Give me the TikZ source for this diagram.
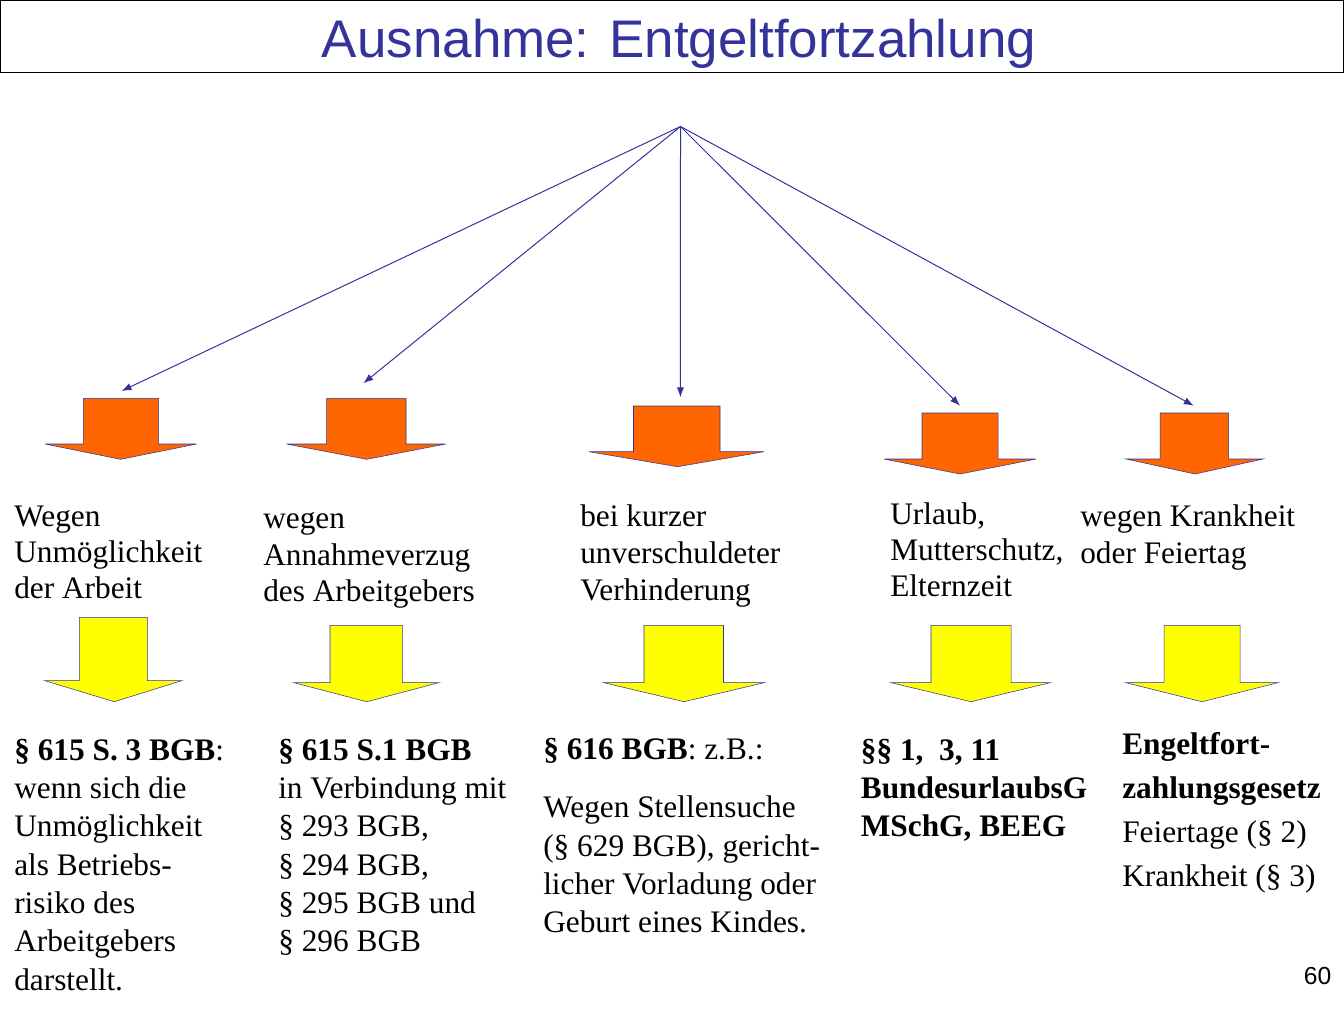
\documentclass[tikz,border=0pt]{standalone}
\usepackage{fontspec}
\setmainfont{Liberation Serif}
\newfontfamily\titlefont{Liberation Sans}
\usetikzlibrary{arrows.meta}
\definecolor{titleblue}{HTML}{333399}
\definecolor{orangefill}{HTML}{FF6600}
\definecolor{yellowfill}{HTML}{FFFF00}
\begin{document}
\begin{tikzpicture}[x=0.75pt,y=-0.75pt,
  fan/.style={draw=titleblue, line width=0.75pt, -{Latex[length=7.5pt,width=5.5pt]}},
  blockarrow/.style={draw=titleblue, line width=0.4pt},
  midtext/.style={anchor=base west, align=left, inner sep=0pt, font=\fontsize{23.5}{27.5}\selectfont},
  lawtext/.style={anchor=base west, align=left, inner sep=0pt, font=\fontsize{23.5}{28.7}\selectfont}]
\useasboundingbox (0,0) rectangle (1344,1008);
% title
\draw[line width=1pt] (0.7,0.7) rectangle (1343.3,72.7);
\node[anchor=base, inner sep=0pt, text=titleblue, font=\titlefont\fontsize{39.7}{44}\selectfont] (title) at (679,57) {Ausnahme: Entgeltfortzahlung};
% fan of connectors
\coordinate (apex) at (680.5,126.5);
\coordinate (end1) at (121.5,391);
\coordinate (end2) at (363.3,383.3);
\coordinate (end3) at (680.4,397.3);
\coordinate (end4) at (960,405.7);
\coordinate (end5) at (1193.8,405.7);
\foreach \e in {1,...,5}
  \draw[fan] (apex) -- (end\e);
% orange block arrows
\filldraw[blockarrow, fill=orangefill] (83.3,398.3) -- (158.7,398.3) -- (158.7,444) -- (196.7,444) -- (120.7,459.3) -- (45,444) -- (83.3,444) -- cycle;
\filldraw[blockarrow, fill=orangefill] (326.7,398.3) -- (406,398.3) -- (406,444) -- (445.7,444) -- (366.7,459.3) -- (286.7,444) -- (326.7,444) -- cycle;
\filldraw[blockarrow, fill=orangefill] (633.5,406) -- (720,406) -- (720,451.7) -- (764,451.7) -- (677.5,466.7) -- (589,451.7) -- (633.5,451.7) -- cycle;
\filldraw[blockarrow, fill=orangefill] (922,413) -- (998,413) -- (998,459) -- (1036,459) -- (960,474) -- (884,459) -- (922,459) -- cycle;
\filldraw[blockarrow, fill=orangefill] (1160,413) -- (1228.5,413) -- (1228.5,459) -- (1263,459) -- (1195,474) -- (1126,459) -- (1160,459) -- cycle;
% causes (anchored at the baseline of the last line)
\node[midtext, font=\fontsize{23.5}{27}\selectfont] (cause1) at (14,598) {Wegen\\Unmöglichkeit\\der Arbeit};
\node[midtext] (cause2) at (263,601.7) {wegen\\Annahmeverzug\\des Arbeitgebers};
\node[midtext] (cause3) at (580,600) {bei kurzer\\unverschuldeter\\Verhinderung};
\node[midtext, font=\fontsize{23.5}{27}\selectfont] (cause4) at (890,596.7) {Urlaub,\\Mutterschutz,\\Elternzeit};
\node[midtext] (cause5) at (1080,563) {wegen Krankheit\\oder Feiertag};
% yellow block arrows
\filldraw[blockarrow, fill=yellowfill] (79.3,617.3) -- (147.3,617.3) -- (147.3,680.7) -- (181.7,680.7) -- (114.3,701.7) -- (45,680.7) -- (79.3,680.7) -- cycle;
\filldraw[blockarrow, fill=yellowfill] (330,625.3) -- (402.3,625.3) -- (402.3,682.7) -- (438.7,682.7) -- (366.7,701.7) -- (294,682.7) -- (330,682.7) -- cycle;
\filldraw[blockarrow, fill=yellowfill] (644,625.3) -- (723.5,625.3) -- (723.5,682.7) -- (764,682.7) -- (684,701.7) -- (604,682.7) -- (644,682.7) -- cycle;
\filldraw[blockarrow, fill=yellowfill] (931,625.3) -- (1011,625.3) -- (1011,682.7) -- (1050,682.7) -- (971,701.7) -- (891,682.7) -- (931,682.7) -- cycle;
\filldraw[blockarrow, fill=yellowfill] (1164,625.3) -- (1240,625.3) -- (1240,682.7) -- (1278,682.7) -- (1202,701.7) -- (1126,682.7) -- (1164,682.7) -- cycle;
% legal bases (anchored at the baseline of the last line)
\node[lawtext] (law1) at (14,990) {\textbf{§ 615 S. 3 BGB}:\\wenn sich die\\Unmöglichkeit\\als Betriebs-\\risiko des\\Arbeitgebers\\darstellt.};
\node[lawtext] (law2) at (278,951.7) {\textbf{§ 615 S.1 BGB}\\in Verbindung mit\\§ 293 BGB,\\§ 294 BGB,\\§ 295 BGB und\\§ 296 BGB};
\node[lawtext] (law3) at (543,932.7) {\textbf{§ 616 BGB}: z.B.:\\[14.8pt]Wegen Stellensuche\\(§ 629 BGB), gericht-\\licher Vorladung oder\\Geburt eines Kindes.};
\node[lawtext] (law4) at (860.6,836.7) {\textbf{§§ 1,\ \ 3, 11}\\\textbf{BundesurlaubsG}\\\textbf{MSchG, BEEG}};
\node[lawtext, font=\fontsize{23.5}{32.8}\selectfont] (law5) at (1122,886) {\textbf{Engeltfort-}\\\textbf{zahlungsgesetz}\\Feiertage (§ 2)\\Krankheit (§ 3)};
% page number
\node[anchor=base east, inner sep=0pt, font=\titlefont\fontsize{18.5}{22}\selectfont] (page) at (1331.5,984.5) {60};
\end{tikzpicture}
\end{document}
